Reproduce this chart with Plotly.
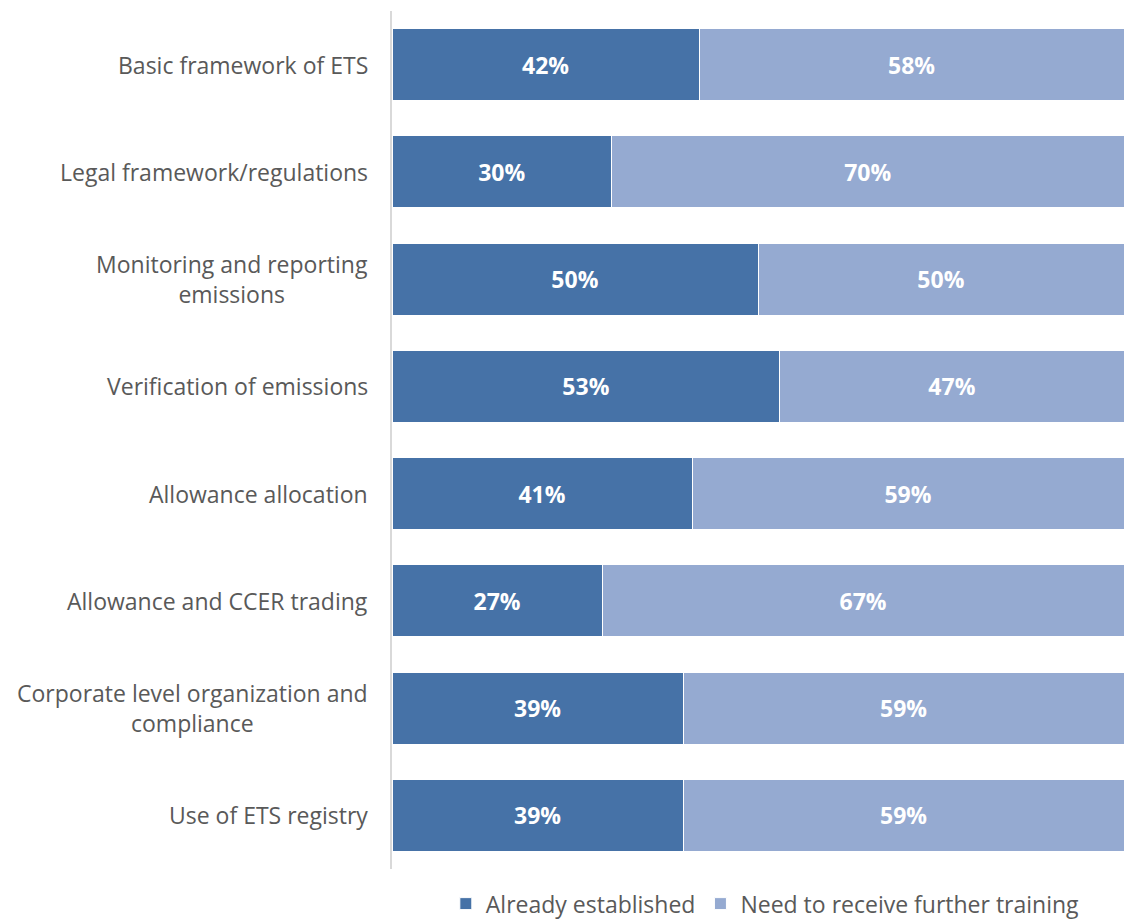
import plotly.graph_objects as go

categories = [
    "Basic framework of ETS",
    "Legal framework/regulations",
    "Monitoring and reporting<br>emissions",
    "Verification of emissions",
    "Allowance allocation",
    "Allowance and CCER trading",
    "Corporate level organization and<br>compliance",
    "Use of ETS registry",
]
already_established = [42, 30, 50, 53, 41, 27, 39, 39]
need_training = [58, 70, 50, 47, 59, 67, 59, 59]
series_names = ["Already established", "Need to receive further training"]
colors = ["#4672A7", "#95AAD1"]

FONT = "Open Sans, Noto Sans, sans-serif"

fig = go.Figure()
for name, vals, col in zip(series_names, [already_established, need_training], colors):
    fig.add_trace(go.Bar(
        y=categories, x=vals, name=name, orientation="h",
        marker=dict(color=col, line=dict(color="white", width=1)),
        text=[f"{v}%" for v in vals], textposition="inside",
        insidetextanchor="middle",
        textfont=dict(color="white", size=23, family=FONT, weight="bold"),
    ))

for cat in categories:
    fig.add_annotation(
        x=0, xref="paper", y=cat, yref="y", xanchor="right", xshift=-22,
        text=cat, showarrow=False, align="center",
        font=dict(size=23, color="#595959", family=FONT),
    )

fig.update_layout(
    barmode="stack", barnorm="percent", bargap=0.33,
    width=1124, height=924,
    margin=dict(l=392, r=0, t=11, b=55),
    plot_bgcolor="white", paper_bgcolor="white",
    font=dict(family=FONT, color="#595959", size=23),
    xaxis=dict(visible=False, range=[0, 100], fixedrange=True),
    yaxis=dict(autorange="reversed", showticklabels=False, showgrid=False,
               showline=True, linecolor="#D9D9D9", linewidth=2, ticks=""),
    legend=dict(orientation="h", x=0.51, xanchor="center",
                yref="container", y=0.022, yanchor="middle",
                font=dict(size=23, color="#595959", family=FONT),
                itemwidth=30, traceorder="normal"),
    showlegend=True,
)

fig.write_html(
    "out.html",
    config={"responsive": False, "displayModeBar": False},
    default_width="1124px",
    default_height="924px",
    post_script="document.body.style.margin='0';document.body.style.overflow='hidden';"
                "Plotly.Plots.resize(document.getElementById('{plot_id}'));",
)
